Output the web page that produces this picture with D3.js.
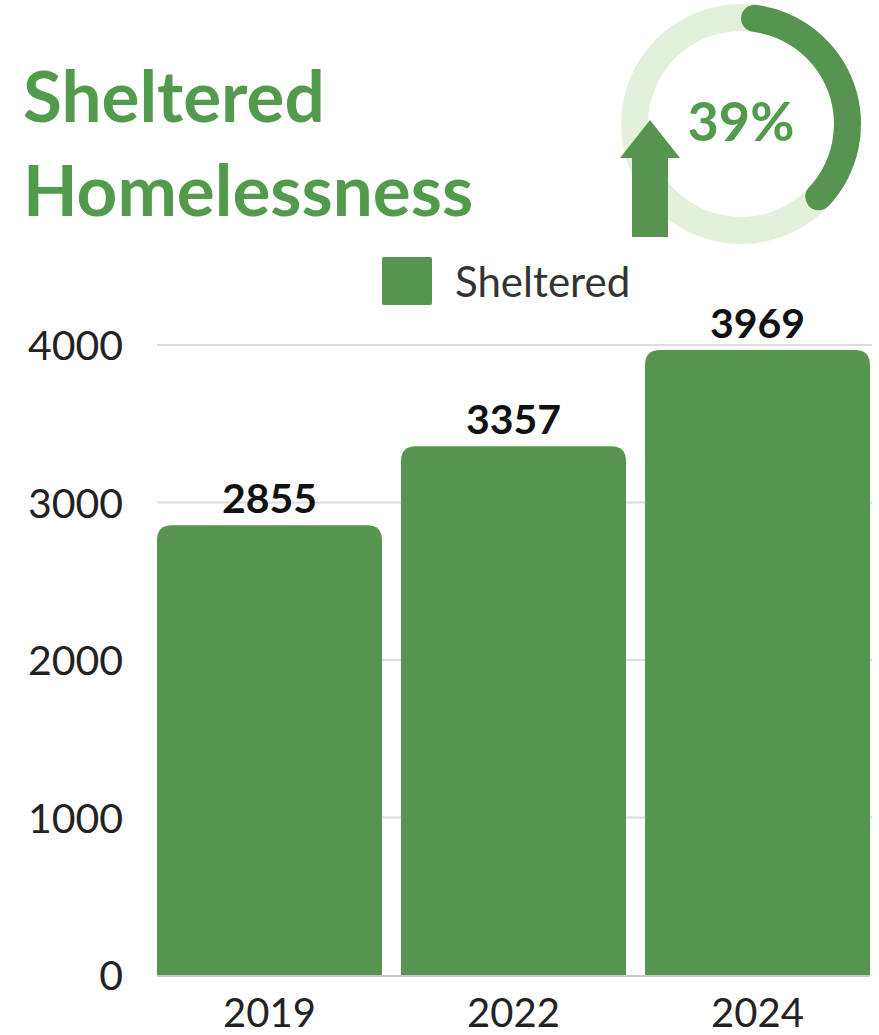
<!DOCTYPE html>
<html>
<head>
<meta charset="utf-8">
<script src="https://cdn.jsdelivr.net/npm/d3@7"></script>
<style>
  html, body { margin: 0; padding: 0; background: #fff; }
  svg { display: block; }
</style>
</head>
<body>
<svg id="chart" width="879" height="1035"></svg>
<script>
const categories = ["2019", "2022", "2024"];
const sheltered = [2855, 3357, 3969];
const yTicks = [0, 1000, 2000, 3000, 4000];
const seriesName = ["Sheltered"];
const titleLines = ["Sheltered", "Homelessness"];
const changePct = [39];

const W = 879, H = 1035;
const barColor = "#569450";
const titleColor = "#529b4d";
const ringLight = "#e3f0dc";
const font = "Lato, 'Open Sans', sans-serif";

const svg = d3.select("#chart");

const x = d3.scaleBand().domain(categories).range([157, 870]).paddingInner(0.078).paddingOuter(0);
const y = d3.scaleLinear().domain([0, 4000]).range([975, 345]);

// gridlines
svg.append("g").selectAll("line").data(yTicks.filter(d => d > 0)).join("line")
  .attr("x1", 157).attr("x2", 872)
  .attr("y1", d => y(d)).attr("y2", d => y(d))
  .attr("stroke", "#dcdcdc").attr("stroke-width", 2);

// y axis labels
const yAxis = d3.axisLeft(y).tickValues(yTicks).tickSize(0).tickPadding(0).tickFormat(d3.format("d"));
const yg = svg.append("g").attr("transform", "translate(123,0)").call(yAxis);
yg.select(".domain").remove();
yg.selectAll("text").attr("font-family", font).attr("font-size", 41).attr("fill", "#222")
  .attr("dy", "0.36em");

// bars with rounded top
const r = 15;
function barPath(x0, w, yt, yb) {
  return `M${x0},${yb} L${x0},${yt + r} Q${x0},${yt} ${x0 + r},${yt} L${x0 + w - r},${yt} Q${x0 + w},${yt} ${x0 + w},${yt + r} L${x0 + w},${yb} Z`;
}
svg.append("g").selectAll("path").data(categories).join("path")
  .attr("d", (c, i) => barPath(x(c), x.bandwidth(), y(sheltered[i]), y(0)))
  .attr("fill", barColor);

// baseline
svg.append("line").attr("x1", 157).attr("x2", 870).attr("y1", y(0) + 1).attr("y2", y(0) + 1)
  .attr("stroke", "#c8c8c8").attr("stroke-width", 2);

// value labels
svg.append("g").selectAll("text").data(categories).join("text")
  .attr("x", c => x(c) + x.bandwidth() / 2)
  .attr("y", (c, i) => y(sheltered[i]) - 12)
  .attr("text-anchor", "middle")
  .attr("font-family", font).attr("font-weight", 700).attr("font-size", 41).attr("fill", "#111")
  .text((c, i) => sheltered[i]);

// x axis labels
const xAxis = d3.axisBottom(x).tickSize(0).tickPadding(0);
const xg = svg.append("g").attr("transform", `translate(0,${y(0)})`).call(xAxis);
xg.select(".domain").remove();
xg.selectAll("text").attr("font-family", font).attr("font-size", 40).attr("fill", "#222")
  .attr("y", 52).attr("dy", 0);

// legend
svg.append("rect").attr("x", 382).attr("y", 257).attr("width", 50).attr("height", 48)
  .attr("rx", 2).attr("fill", barColor);
svg.append("text").attr("x", 455).attr("y", 297).attr("font-family", font).attr("font-size", 42)
  .attr("fill", "#333").text(seriesName[0]);

// title
svg.append("g").selectAll("text").data(titleLines).join("text")
  .attr("x", 23).attr("y", (d, i) => 122 + i * 94)
  .attr("font-family", font).attr("font-weight", 700).attr("font-size", 71).attr("fill", titleColor)
  .text(d => d);

// ring
const cx = 741, cy = 124;
const ring = svg.append("g").attr("transform", `translate(${cx},${cy})`);
ring.append("path").attr("d", d3.arc()({innerRadius: 93, outerRadius: 120, startAngle: 0, endAngle: 2 * Math.PI}))
  .attr("fill", ringLight);
ring.append("path").attr("d", d3.arc().cornerRadius(13.5)({innerRadius: 93, outerRadius: 120, startAngle: 0, endAngle: changePct[0] / 100 * 2 * Math.PI}))
  .attr("fill", barColor);
ring.append("text").attr("x", 0).attr("y", 17).attr("text-anchor", "middle")
  .attr("font-family", font).attr("font-weight", 700).attr("font-size", 54).attr("fill", titleColor)
  .text(changePct[0] + "%");

// arrow
svg.append("path")
  .attr("d", "M650,120 L680,158 L668,158 L668,237 L632,237 L632,158 L620,158 Z")
  .attr("fill", barColor);
</script>
</body>
</html>
